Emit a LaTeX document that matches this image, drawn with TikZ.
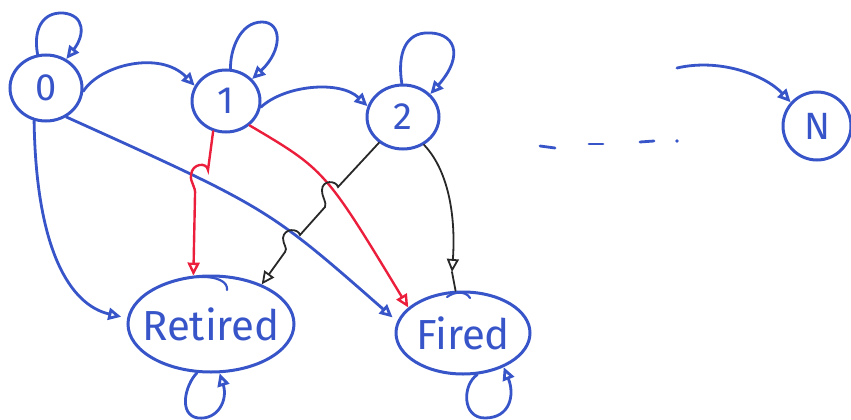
\documentclass[tikz,border=0pt]{standalone}
\usepackage{fontspec}
\setsansfont{Fira Sans}
\usetikzlibrary{arrows.meta,shapes.geometric}
\definecolor{inkblue}{RGB}{55,85,200}
\definecolor{inkred}{RGB}{235,30,60}
\definecolor{inkblack}{RGB}{40,40,40}
\tikzset{
  state/.style={ellipse, draw=inkblue, line width=3pt, inner sep=0pt, text=inkblue,
                font=\sffamily\fontsize{38}{40}\selectfont},
  bigtxt/.style={text=inkblue, font=\sffamily\fontsize{42}{44}\selectfont, inner sep=0pt},
  blueline/.style={draw=inkblue, line width=2.8pt, line cap=round},
  redline/.style={draw=inkred, line width=2.4pt, line cap=round},
  blkline/.style={draw=inkblack, line width=1.8pt, line cap=round},
  arr/.style={-{Triangle[open,length=13pt,width=12pt]}}
}
\begin{document}
\begin{tikzpicture}[x=1pt,y=-1pt]
\useasboundingbox (0,0) rectangle (851,420);

% states
\node[state, minimum width=72pt, minimum height=66pt] (n0) at (46,88) {0};
\node[state, minimum width=68pt, minimum height=62pt] (n1) at (226,101) {1};
\node[state, minimum width=72pt, minimum height=64pt] (n2) at (403,117) {2};
\node[state, minimum width=68pt, minimum height=68pt] (nN) at (817,126) {N};
\node[state, minimum width=166pt, minimum height=96pt] (nR) at (211,324) {};
\node[bigtxt] (tR) at (nR.center) {Retired};
\node[state, minimum width=134pt, minimum height=82pt] (nF) at (463,333) {};
\node[bigtxt] (tF) at (nF.center) {Fired};

% overshoot strokes on the big ellipses
\draw[blueline, line width=2.2pt] (197,277) .. controls (218,276) and (228,282) .. (227,290);
\draw[blueline, line width=2.2pt] (447,297) .. controls (455,291) and (466,291) .. (470,298);

% self loops
\draw[blueline, arr] (n0.104) .. controls (33,30) and (42,12) .. (63,13) .. controls (85,15) and (85,35) .. (n0.55);
\draw[blueline, arr] (n1.82) .. controls (230,50) and (240,22) .. (262,22) .. controls (282,22) and (283,50) .. (n1.40);
\draw[blueline, arr] (n2.92) .. controls (398,60) and (402,35) .. (425,33) .. controls (455,31) and (465,55) .. (n2.40);
\draw[blueline, arr] (nR.-106) .. controls (185,385) and (178,415) .. (198,418) .. controls (218,420) and (228,400) .. (nR.-80);
\draw[blueline, arr] (nF.-71) .. controls (462,385) and (462,418) .. (485,418) .. controls (510,418) and (515,395) .. (nF.-40);

% chain
\draw[blueline, arr] (n0.-5) .. controls (100,65) and (160,50) .. (n1.154);
\draw[blueline, arr] (n1.-10) .. controls (285,85) and (340,80) .. (n2.163);
\coordinate (cN) at (677,68);
\draw[blueline, arr] (cN) .. controls (720,58) and (765,75) .. (nN.138);

% dots
\draw[blueline] (540,146) -- (555,148);
\draw[blueline] (589,144) -- (603,144);
\draw[blueline] (640,142) -- (654,141);
\fill[inkblue] (677,141) circle (1.8pt);

% from 0
\draw[blueline, arr, shorten >=6pt] (n0.-110) .. controls (36,250) and (70,305) .. (nR.176);
\draw[blueline, arr, shorten >=6pt] (n0.-55) .. controls (268,208) .. (nF.170);

% from 1 (red)
\draw[redline, arr] (n1.-46) .. controls (325,170) .. (nF.155);
\draw[redline, arr] (n1.-113) -- (208,170) .. controls (207,162) and (192,163) .. (191,175)
   .. controls (190,183) and (196,186) .. (195,195) -- (nR.110);

% from 2 (black)
\draw[blkline, arr] (n2.-133) -- (338,187) .. controls (336,180) and (322,180) .. (322,190)
   .. controls (322,198) and (327,202) .. (325,207) -- (300,235)
   .. controls (298,228) and (284,228) .. (283,238)
   .. controls (283,245) and (288,248) .. (285,252) -- (nR.38);
\coordinate (m2F) at (452,272);
\draw[blkline, arr] (n2.-53) .. controls (448,170) and (456,215) .. (m2F);
\draw[blkline] (m2F) -- (nF.100);
\end{tikzpicture}
\end{document}
